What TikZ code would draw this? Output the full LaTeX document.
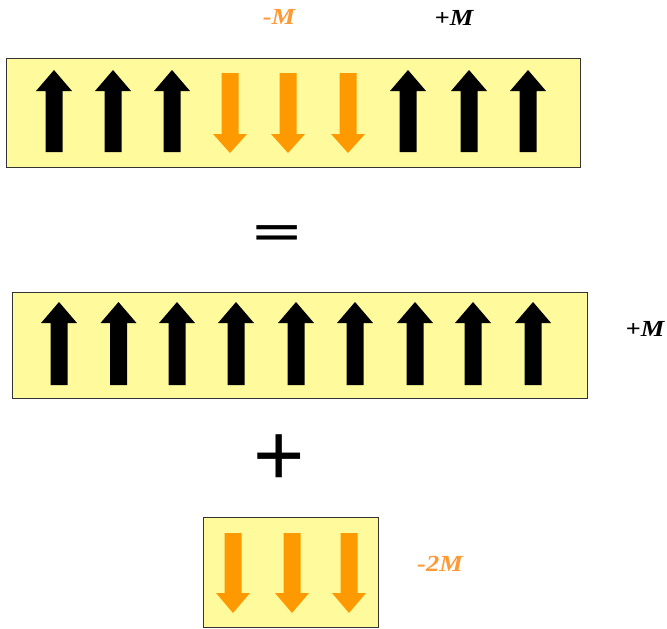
\documentclass[tikz,border=0pt]{standalone}
\usepackage{fontspec}
\setmainfont{Liberation Serif}
\newfontfamily\opfont{Liberation Sans}
\definecolor{panel}{HTML}{FFFB9C}
\definecolor{spinorange}{HTML}{FF9900}
\definecolor{lblorange}{HTML}{FF9933}
\definecolor{edge}{HTML}{333333}
% up spin: centre x, tip y, head base y, tail y
\newcommand{\spinup}[4]{%
  \fill[black] (#1-8.5,#4) -- (#1-8.5,#3) -- (#1-18,#3) -- (#1,#2)
    -- (#1+18,#3) -- (#1+8.5,#3) -- (#1+8.5,#4) -- cycle;}
% down spin: centre x, tail y, head base y, tip y
\newcommand{\spindown}[4]{%
  \fill[spinorange] (#1-8.5,#2) -- (#1-8.5,#3) -- (#1-17,#3) -- (#1,#4)
    -- (#1+17,#3) -- (#1+8.5,#3) -- (#1+8.5,#2) -- cycle;}
\tikzset{
  panelbox/.style={fill=panel, draw=edge, line width=1pt},
  lbl/.style={font=\fontsize{23}{26}\selectfont\bfseries\itshape, inner sep=0pt},
  opsign/.style={inner sep=0pt}
}
\begin{document}
\begin{tikzpicture}[x=1pt,y=-1pt]
\useasboundingbox (0,0) rectangle (667,629);
\fill[white] (0,0) rectangle (667,629);

% domain chain: up, down, up
\draw[panelbox] (6,58) rectangle (580,167);
\foreach \x in {54,113,172,408,469,528} {\spinup{\x}{70}{91}{152}}
\foreach \x in {230,288,348} {\spindown{\x}{73}{134}{153}}
\node[lbl, text=lblorange] (mneg) at (279,17) {\scalebox{1.15}[1]{-M}};
\node[lbl, text=black] (mpos) at (454,18) {\scalebox{1.15}[1]{+M}};

\node[opsign] (eq) at (277,236) {\scalebox{0.95}[0.45]{\fontsize{85}{90}\opfont\bfseries =}};

% uniform chain
\draw[panelbox] (12,292) rectangle (587,398);
\foreach \x in {59,118.5,177,236,296,355,415,473,533} {\spinup{\x}{302}{323}{385}}
\node[lbl, text=black] (mall) at (645,329) {\scalebox{1.15}[1]{+M}};

\node[opsign] (plus) at (279,460) {\fontsize{88}{90}\opfont +};

% reversed segment
\draw[panelbox] (203,517) rectangle (378,627);
\foreach \x in {233,292,349} {\spindown{\x}{533}{593}{613}}
\node[lbl, text=lblorange] (mtwo) at (440,564) {\scalebox{1.15}[1]{-2M}};
\end{tikzpicture}
\end{document}
